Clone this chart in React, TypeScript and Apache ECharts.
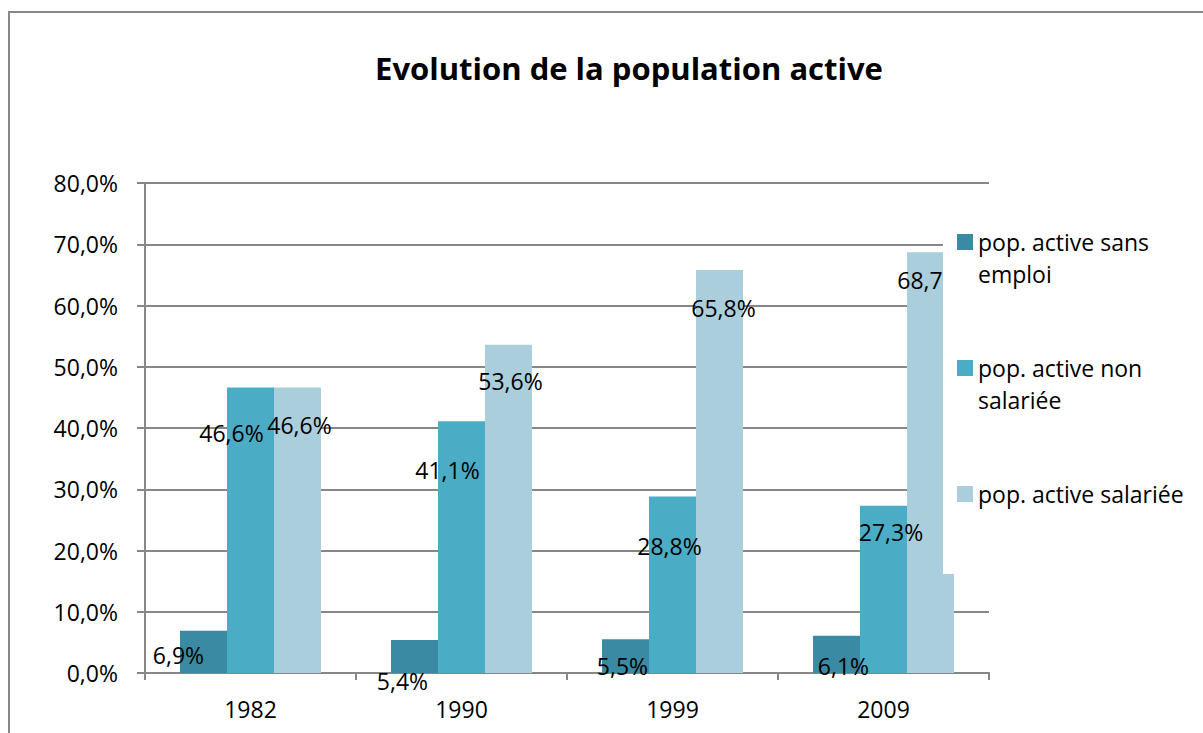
import React, { useEffect, useRef } from "react";
import * as echarts from "echarts";

const years = ["1982", "1990", "1999", "2009"];
const seriesNames = [
  "pop. active sans emploi",
  "pop. active non salariée",
  "pop. active salariée",
];
const legendLabels = [
  "pop. active sans\nemploi",
  "pop. active non\nsalariée",
  "pop. active salariée",
];
const sansEmploi = [6.9, 5.4, 5.5, 6.1];
const nonSalariee = [46.6, 41.1, 28.8, 27.3];
const salariee = [46.6, 53.6, 65.8, 68.7];
const yMin = 0;
const yMax = 80;
const yStep = 10;
const titleText = "Evolution de la population active";

// label shifts (dx, dy) from the top-centre of each bar, in pixels
const LABEL_SHIFT = [
  [[-25, 24], [-12, 41], [-3, 27], [7, 30]],
  [[-19, 45], [-14, 49], [-3, 49], [7.5, 26]],
  [[2, 37], [2, 36.5], [4, 38], [-1, 28]],
];

const COLORS = ["#3B8AA3", "#4BACC6", "#AACEDC"];
const FONT = "'Open Sans', 'Noto Sans', sans-serif";
const GRID_COLOR = "#878787";

const fmt = (v: number) => v.toFixed(1).replace(".", ",") + "%";

export default function App() {
  const ref = useRef<HTMLDivElement>(null);

  useEffect(() => {
    if (!ref.current) return;
    const chart = echarts.init(ref.current, undefined, { renderer: "svg" });
    const allData = [sansEmploi, nonSalariee, salariee];

    const series = allData.map((vals, si) => ({
      type: "bar",
      name: seriesNames[si],
      barWidth: 47,
      barGap: "0%",
      itemStyle: { color: COLORS[si] },
      label: {
        show: true,
        position: ["50%", 0],
        align: "center",
        verticalAlign: "middle",
        color: "#000",
        fontSize: 23,
        fontFamily: FONT,
        formatter: (p: any) => fmt(p.value),
      },
      data: vals.map((v, ci) => ({
        value: v,
        label: { offset: LABEL_SHIFT[si][ci] },
      })),
    }));

    // multi-line entries get a blank leading line so that the first text
    // line sits level with the legend marker
    const legendTops = [194, 320, 478];
    const legends = seriesNames.map((n, i) => ({
      data: [n],
      left: 957,
      top: legendTops[i],
      orient: "vertical",
      padding: 0,
      itemWidth: 16,
      itemHeight: 16,
      icon: "rect",
      selectedMode: false,
      z: 20,
      formatter: () =>
        legendLabels[i].includes("\n") ? "\n" + legendLabels[i] : legendLabels[i],
      textStyle: {
        color: "#000",
        fontSize: 23,
        fontFamily: FONT,
        lineHeight: 32,
      },
    }));

    chart.setOption({
      animation: false,
      backgroundColor: "#fff",
      grid: { left: 145, right: 214, top: 183, bottom: 60, containLabel: false },
      xAxis: {
        type: "category",
        data: years,
        axisLine: { show: true, lineStyle: { color: GRID_COLOR, width: 2 } },
        axisTick: {
          show: true,
          alignWithLabel: false,
          length: 7,
          lineStyle: { color: GRID_COLOR, width: 2 },
        },
        axisLabel: { margin: 24, fontSize: 23, color: "#000", fontFamily: FONT },
        splitLine: { show: false },
      },
      yAxis: {
        type: "value",
        min: yMin,
        max: yMax,
        interval: yStep,
        axisLine: { show: true, lineStyle: { color: GRID_COLOR, width: 2 } },
        axisTick: { show: true, length: 8, lineStyle: { color: GRID_COLOR, width: 2 } },
        axisLabel: {
          margin: 27,
          fontSize: 23,
          color: "#000",
          fontFamily: FONT,
          formatter: (v: number) => fmt(v),
        },
        splitLine: { show: true, lineStyle: { color: GRID_COLOR, width: 2 } },
      },
      legend: legends,
      graphic: [
        {
          type: "rect",
          z: 0,
          silent: true,
          shape: { x: 9, y: 12, width: 1400, height: 900 },
          style: { fill: "none", stroke: GRID_COLOR, lineWidth: 2 },
        },
        {
          type: "rect",
          z: 10,
          silent: true,
          shape: { x: 943, y: 196, width: 250, height: 378 },
          style: { fill: "#fff" },
        },
        {
          type: "text",
          z: 10,
          x: 629,
          y: 68,
          style: {
            text: titleText,
            align: "center",
            verticalAlign: "middle",
            fontSize: 31,
            fontWeight: "bold",
            fontFamily: FONT,
            fill: "#000",
          },
        },
      ],
      series,
    });

    return () => chart.dispose();
  }, []);

  return (
    <div
      ref={ref}
      style={{
        position: "fixed",
        left: 0,
        top: 0,
        width: 1203,
        height: 733,
        background: "#fff",
      }}
    />
  );
}
